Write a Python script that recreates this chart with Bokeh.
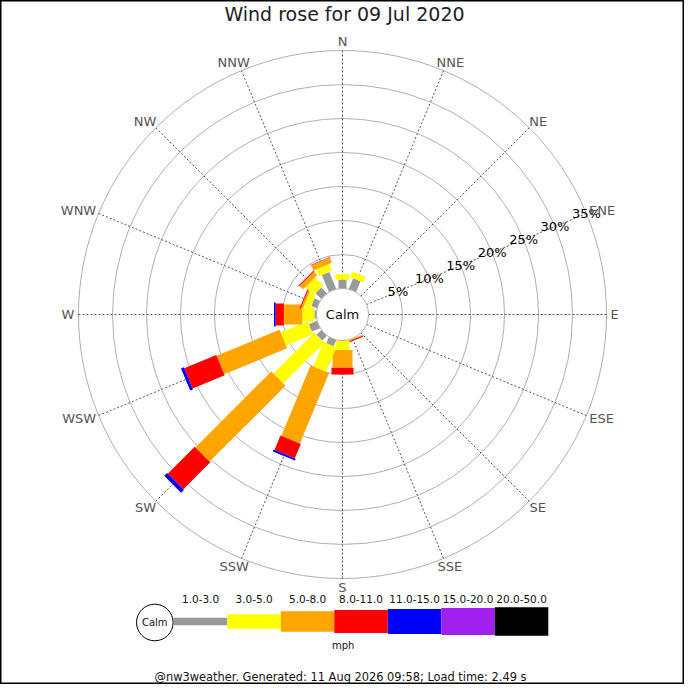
import math
from bokeh.plotting import figure
from bokeh.models import Range1d
from bokeh.embed import file_html
from bokeh.resources import INLINE
from bokeh.core.properties import value

# ---------------- data ----------------
title_text = "Wind rose for 09 Jul 2020"
footer_text = "@nw3weather. Generated: 11 Aug 2026 09:58; Load time: 2.49 s"
calm_label = "Calm"
speed_unit = "mph"
directions = ["N", "NNE", "NE", "ENE", "E", "ESE", "SE", "SSE",
              "S", "SSW", "SW", "WSW", "W", "WNW", "NW", "NNW"]
speed_bins = ["1.0-3.0", "3.0-5.0", "5.0-8.0", "8.0-11.0",
              "11.0-15.0", "15.0-20.0", "20.0-50.0"]
ring_pcts = [5, 10, 15, 20, 25, 30, 35]

# percent of time, per direction (N clockwise), per speed bin
pct_1_3 = [1.3, 1.7, 0, 0, 0, 0, 0, 0, 0, 1.0, 1.0, 1.3, 0.3, 0.9, 1.2, 2.7]
pct_3_5 = [0.8, 0.9, 0, 0, 0, 0, 0, 0.05, 1.4, 3.9, 8.5, 4.3, 1.8, 1.0, 1.7, 1.1]
pct_5_8 = [0, 0, 0, 0, 0, 0, 0, 0.15, 2.6, 11.2, 15.8, 10.0, 2.7, 0.3, 0.7, 0.8]
pct_8_11 = [0, 0, 0, 0, 0, 0, 0, 0.15, 1.0, 2.3, 5.6, 5.1, 1.2, 0.15, 0.15, 0.1]
pct_11_15 = [0, 0, 0, 0, 0, 0, 0, 0, 0, 0.3, 0.6, 0.45, 0.25, 0, 0, 0]
pct_15_20 = [0] * 16
pct_20_50 = [0] * 16
series = [pct_1_3, pct_3_5, pct_5_8, pct_8_11, pct_11_15, pct_15_20, pct_20_50]

# ---------------- styles / geometry ----------------
bin_colors = ["#999999", "#ffff00", "#ffa500", "#ff0000", "#0000ff", "#a020f0", "#000000"]
bin_widths = [8, 14, 20, 22, 24, 26, 28]
legend_heights = [7.7, 14.3, 20.3, 23, 25, 27, 28.7]
CALM_R = 26.0
PX_PER_PCT = 6.8
FONT = "DejaVu Sans"

def rad(p):
    return CALM_R + p * PX_PER_PCT

p = figure(width=684, height=684, output_backend="svg", toolbar_location=None,
           x_range=Range1d(-342, 342), y_range=Range1d(-370, 314),
           min_border=0)
p.axis.visible = False
p.grid.visible = False
p.outline_line_color = "black"
p.outline_line_width = 2
p.background_fill_color = "white"
p.border_fill_color = "white"

# rings
ring_r = [rad(v) for v in ring_pcts]
p.circle(x=[0] * len(ring_r), y=[0] * len(ring_r), radius=ring_r,
         fill_color=None, line_color="#b0b0b0", line_width=1)

# spokes
outer = rad(ring_pcts[-1])
angles = [math.radians(22.5 * i) for i in range(len(directions))]
p.segment(x0=[CALM_R * math.sin(a) for a in angles], y0=[CALM_R * math.cos(a) for a in angles],
          x1=[outer * math.sin(a) for a in angles], y1=[outer * math.cos(a) for a in angles],
          line_color="#555555", line_width=1, line_dash="2 2")

# bars
bx, by, bw, bh, ba, bc = [], [], [], [], [], []
for i, a in enumerate(angles):
    cum = 0.0
    for k, s in enumerate(series):
        v = s[i]
        if v <= 0:
            continue
        r0, r1 = rad(cum), rad(cum + v)
        rm = (r0 + r1) / 2
        bx.append(rm * math.sin(a))
        by.append(rm * math.cos(a))
        bw.append(r1 - r0)
        bh.append(bin_widths[k])
        ba.append(math.pi / 2 - a)
        bc.append(bin_colors[k])
        cum += v
p.rect(x=bx, y=by, width=bw, height=bh, angle=ba, fill_color=bc, line_color=None)

# calm circle
p.circle(x=[0], y=[0], radius=CALM_R, fill_color="white", line_color="#b0b0b0", line_width=1)
p.text(x=[0], y=[0], text=[calm_label], text_align="center", text_baseline="middle",
       text_font=value(FONT), text_font_size="13px", text_color="#111111")

# percent labels along ENE
ene = math.radians(67.5)
p.text(x=[r * math.sin(ene) for r in ring_r], y=[r * math.cos(ene) for r in ring_r],
       text=[f"{v}%" for v in ring_pcts], text_align="center", text_baseline="middle",
       text_font=value(FONT), text_font_size="13px", text_color="#000000")

# compass labels
CH_W = {"N": 9.7, "E": 8.2, "S": 8.3, "W": 12.9}
GAP = 4.0
CAP = 9.5
lx, ly = [], []
for d, a in zip(directions, angles):
    ux, uy = math.sin(a), math.cos(a)
    w = sum(CH_W[c] for c in d)
    lx.append((outer + GAP) * ux + ux * w / 2)
    ly.append((outer + GAP) * uy + uy * CAP / 2)
p.text(x=lx, y=ly, text=directions, text_align="center", text_baseline="middle",
       text_font=value(FONT), text_font_size="13px", text_color="#555555")

# title
p.text(x=[2], y=[301], text=[title_text], text_align="center", text_baseline="middle",
       text_font=value(FONT), text_font_size="19px", text_color="#222222")

# legend
LEG_Y = -307
LEG_X0 = -168.7
LEG_STEP = 53.5
lcx = [LEG_X0 + LEG_STEP * (k + 0.5) for k in range(len(speed_bins))]
p.rect(x=lcx, y=[LEG_Y] * len(lcx), width=[LEG_STEP] * len(lcx), height=legend_heights,
       fill_color=bin_colors, line_color=None)
p.circle(x=[-187.7], y=[-308], radius=18.3, fill_color="white", line_color="black", line_width=1)
p.text(x=[-187.7], y=[-308], text=[calm_label], text_align="center", text_baseline="middle",
       text_font=value(FONT), text_font_size="10px", text_color="#111111")
p.text(x=lcx, y=[-284.7] * len(lcx), text=speed_bins, text_align="center", text_baseline="middle",
       text_font=value(FONT), text_font_size="10.5px", text_color="#111111")
p.text(x=[0.7], y=[-331], text=[speed_unit], text_align="center", text_baseline="middle",
       text_font=value(FONT), text_font_size="10px", text_color="#111111")

# footer
p.text(x=[-2], y=[-362], text=[footer_text], text_align="center", text_baseline="middle",
       text_font=value(FONT), text_font_size="11.4px", text_color="#111111")

open("out.html", "w").write(file_html(p, INLINE))
